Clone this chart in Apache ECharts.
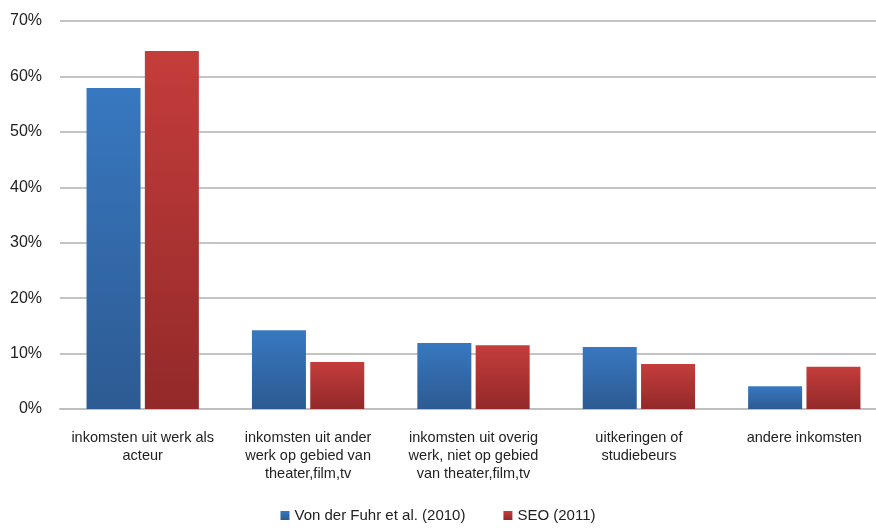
<!DOCTYPE html>
<html>
<head>
<meta charset="UTF-8">
<title>Inkomsten acteurs</title>
<script src="https://cdn.jsdelivr.net/npm/echarts@6/dist/echarts.min.js"></script>
</head>
<body style="margin:0">
<div id="main" style="width:876px;height:530px;"></div>
<script type="text/javascript">
var categories = [
    'inkomsten uit werk als\nacteur',
    'inkomsten uit ander\nwerk op gebied van\ntheater,film,tv',
    'inkomsten uit overig\nwerk, niet op gebied\nvan theater,film,tv',
    'uitkeringen of\nstudiebeurs',
    'andere inkomsten'
];
var vonDerFuhr = [57.9, 14.2, 11.9, 11.2, 4.1];
var seo = [64.6, 8.5, 11.5, 8.1, 7.6];
var seriesNames = ['Von der Fuhr et al. (2010)', 'SEO (2011)'];

function grad(top, bottom) {
    return new echarts.graphic.LinearGradient(0, 0, 0, 1, [
        {offset: 0, color: top},
        {offset: 1, color: bottom}
    ]);
}

var myChart = echarts.init(document.getElementById('main'));
var option = {
    animation: false,
    textStyle: {fontFamily: 'Liberation Sans, Arial, sans-serif'},
    // plot area runs a bit past the right edge, like the original
    grid: {left: 60, right: -11, top: 21, bottom: 121, containLabel: false, outerBoundsMode: 'none'},
    legend: {
        bottom: 2,
        left: 'center',
        itemWidth: 9,
        itemHeight: 9,
        itemGap: 38,
        icon: 'rect',
        textStyle: {fontSize: 15, color: '#222'},
        data: seriesNames
    },
    xAxis: {
        type: 'category',
        data: categories,
        axisLine: {show: true, lineStyle: {color: '#BFBFBF', width: 2}},
        axisTick: {show: false},
        axisLabel: {interval: 0, fontSize: 14.5, color: '#222', lineHeight: 18, margin: 20}
    },
    yAxis: {
        type: 'value',
        min: 0,
        max: 70,
        interval: 10,
        axisLine: {show: false},
        axisTick: {show: false},
        splitLine: {lineStyle: {color: '#C4C4C4', width: 2}},
        axisLabel: {formatter: '{value}%', fontSize: 16, color: '#222', margin: 18}
    },
    series: [
        {
            name: seriesNames[0],
            type: 'bar',
            data: vonDerFuhr,
            barWidth: 54,
            barGap: '8%',
            itemStyle: {color: grad('#3878C0', '#2D5A92')}
        },
        {
            name: seriesNames[1],
            type: 'bar',
            data: seo,
            barWidth: 54,
            itemStyle: {color: grad('#C43D3B', '#93292A')}
        }
    ]
};
myChart.setOption(option);
</script>
</body>
</html>
